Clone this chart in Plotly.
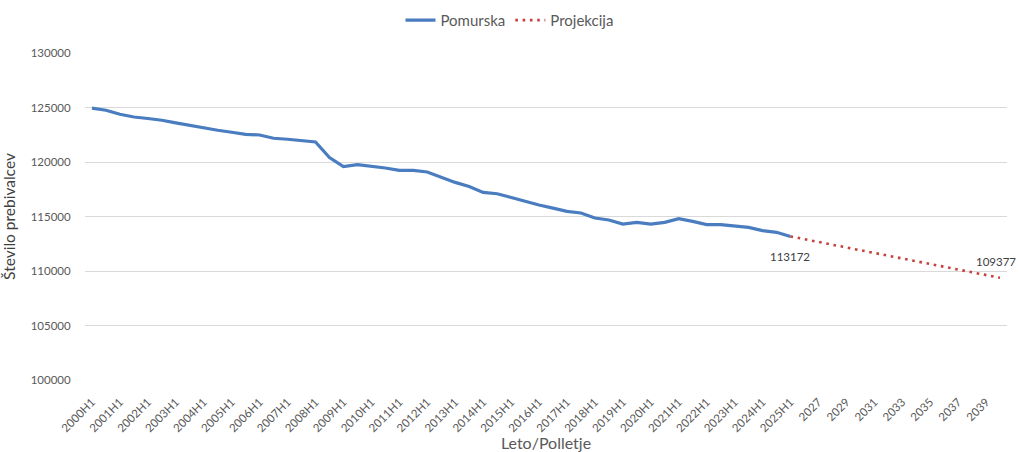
import plotly.graph_objects as go

# Half-year categories of the observed series, then projection years
obdobja = [
    "2000H1", "2000H2", "2001H1", "2001H2", "2002H1", "2002H2", "2003H1", "2003H2",
    "2004H1", "2004H2", "2005H1", "2005H2", "2006H1", "2006H2", "2007H1", "2007H2",
    "2008H1", "2008H2", "2009H1", "2009H2", "2010H1", "2010H2", "2011H1", "2011H2",
    "2012H1", "2012H2", "2013H1", "2013H2", "2014H1", "2014H2", "2015H1", "2015H2",
    "2016H1", "2016H2", "2017H1", "2017H2", "2018H1", "2018H2", "2019H1", "2019H2",
    "2020H1", "2020H2", "2021H1", "2021H2", "2022H1", "2022H2", "2023H1", "2023H2",
    "2024H1", "2024H2", "2025H1",
]
leta_projekcije = [
    "2025H1", "2026", "2027", "2028", "2029", "2030", "2031", "2032",
    "2033", "2034", "2035", "2036", "2037", "2038", "2039", "2040",
]

# Population of the Pomurska region (half-yearly)
pomurska = [
    124950, 124750, 124380, 124130, 123990, 123830, 123590, 123340,
    123100, 122910, 122730, 122540, 122480, 122180, 122090, 121960,
    121840, 120400, 119580, 119760, 119640, 119450, 119230, 119230,
    119080, 118620, 118130, 117760, 117210, 117090, 116720, 116410,
    116050, 115770, 115470, 115320, 114860, 114680, 114310, 114460,
    114310, 114460, 114800, 114550, 114250, 114250, 114160, 114000,
    113700, 113550, 113172,
]

# Projection up to 2040
projekcija = [
    113172, 112920, 112665, 112410, 112155, 111900, 111645, 111390,
    111135, 110880, 110625, 110370, 110115, 109860, 109610, 109377,
]

# Every other category carries a tick label
oznake_x = [
    "2000H1", "2001H1", "2002H1", "2003H1", "2004H1", "2005H1", "2006H1",
    "2007H1", "2008H1", "2009H1", "2010H1", "2011H1", "2012H1", "2013H1",
    "2014H1", "2015H1", "2016H1", "2017H1", "2018H1", "2019H1", "2020H1",
    "2021H1", "2022H1", "2023H1", "2024H1", "2025H1", "2027", "2029",
    "2031", "2033", "2035", "2037", "2039",
]
oznake_y = [100000, 105000, 110000, 115000, 120000, 125000, 130000]

vse_kategorije = obdobja + leta_projekcije[1:]

FONT = "Lato, 'Open Sans', sans-serif"
SIVA = "#595959"
TEMNA = "#404040"

fig = go.Figure()
fig.add_trace(go.Scatter(
    x=obdobja, y=pomurska, name="Pomurska", mode="lines",
    line=dict(color="#4A7CC0", width=3.2),
))
fig.add_trace(go.Scatter(
    x=leta_projekcije, y=projekcija, name="Projekcija", mode="lines",
    line=dict(color="#C8403C", width=2.6, dash="2.6px,4.7px"),
))

# Value labels; numeric-looking year categories are addressed by their index
zadnja_opazovana = vse_kategorije.index(obdobja[-1])
zadnja_projekcija = vse_kategorije.index(leta_projekcije[-1])
fig.add_annotation(x=zadnja_opazovana, y=pomurska[-1], text=str(pomurska[-1]),
                   showarrow=False, yshift=-20,
                   font=dict(family=FONT, size=11.5, color=TEMNA))
fig.add_annotation(x=zadnja_projekcija, y=projekcija[-1], text=str(projekcija[-1]),
                   showarrow=False, yshift=16, xanchor="right", xshift=18,
                   font=dict(family=FONT, size=11.5, color=TEMNA))

fig.update_layout(
    width=1019, height=452,
    margin=dict(l=85, r=12, t=53, b=72),
    paper_bgcolor="white", plot_bgcolor="white",
    font=dict(family=FONT, color=SIVA),
    showlegend=True,
    legend=dict(orientation="h", xref="container", yref="container",
                x=0.5, xanchor="center", y=0.955, yanchor="middle",
                font=dict(size=15, color=SIVA)),
    xaxis=dict(
        type="category", categoryorder="array", categoryarray=vse_kategorije,
        range=[-0.5, len(vse_kategorije) - 0.5], automargin=False,
        tickmode="array", tickvals=oznake_x, ticktext=oznake_x,
        tickangle=-45, tickfont=dict(size=11.5, color=SIVA),
        showgrid=False, showline=False, zeroline=False,
        ticks="outside", ticklen=10, tickcolor="rgba(0,0,0,0)",
        title=dict(text="Leto/Polletje", font=dict(size=16, color=SIVA), standoff=3),
    ),
    yaxis=dict(
        range=[100000, 130000], tickvals=oznake_y, automargin=False,
        ticktext=[str(v) for v in oznake_y],
        tickfont=dict(size=11.5, color=SIVA),
        showgrid=True, gridcolor="#D9D9D9", gridwidth=1,
        zeroline=False, showline=False,
        ticks="outside", ticklen=11, tickcolor="rgba(0,0,0,0)",
        title=dict(text="Število prebivalcev", font=dict(size=15.5, color=TEMNA), standoff=12),
    ),
)

fig.write_html("out.html")
